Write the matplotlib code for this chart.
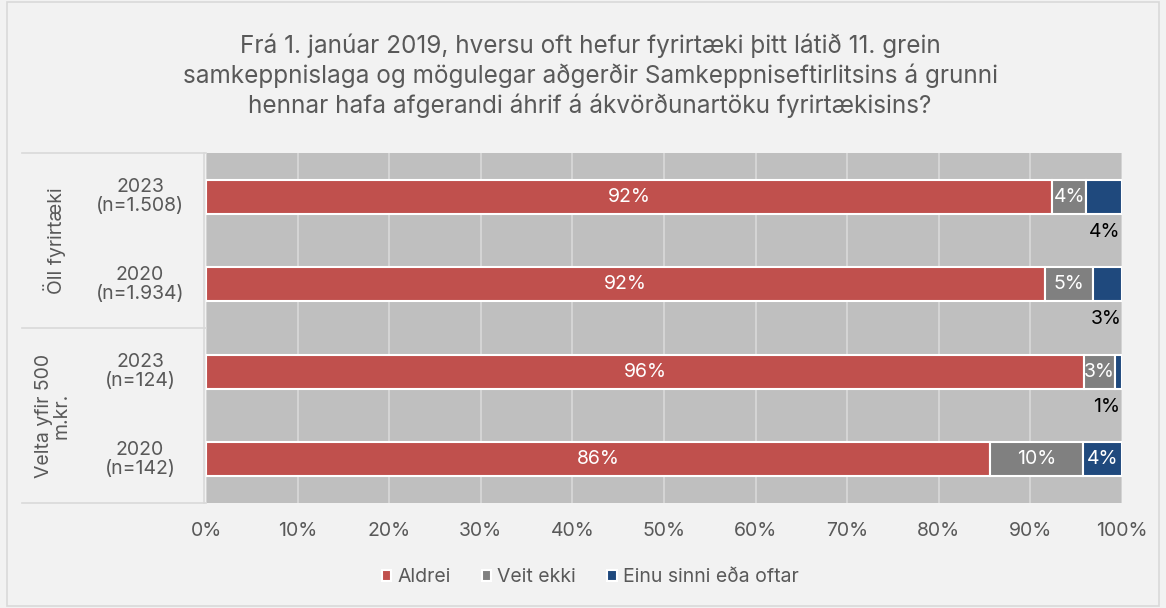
import matplotlib.pyplot as plt
import matplotlib.transforms as mtransforms
from matplotlib.lines import Line2D
from matplotlib.patches import Rectangle

plt.rcParams['font.family'] = ['Inter', 'DejaVu Sans']

# data
rows = ['2023\n(n=1.508)', '2020\n(n=1.934)', '2023\n(n=124)', '2020\n(n=142)']
groups = ['Öll fyrirtæki', 'Velta yfir 500\nm.kr.']
aldrei = [92.4, 91.6, 95.9, 85.6]
veit_ekki = [3.7, 5.2, 3.3, 10.1]
einu_sinni = [3.9, 3.2, 0.8, 4.3]
aldrei_lbl = ['92%', '92%', '96%', '86%']
veit_lbl = ['4%', '5%', '3%', '10%']
einu_lbl = ['4%', '3%', '1%', '4%']
series = ['Aldrei', 'Veit ekki', 'Einu sinni eða oftar']
colors = ['#C0504D', '#808080', '#1F497D']

title = ('Frá 1. janúar 2019, hversu oft hefur fyrirtæki þitt látið 11. grein\n'
         'samkeppnislaga og mögulegar aðgerðir Samkeppniseftirlitsins á grunni\n'
         'hennar hafa afgerandi áhrif á ákvörðunartöku fyrirtækisins?')

W, H = 1166, 608
txt = '#595959'
fs = 14
fig = plt.figure(figsize=(W / 100, H / 100), dpi=100, facecolor='#F2F2F2')
fig.add_artist(Rectangle((7 / W, 2 / H), 1 - 14 / W, 1 - 4 / H, transform=fig.transFigure,
                         fill=False, edgecolor='#D9D9D9', lw=1.2))

ax = fig.add_axes([206 / W, 1 - 503 / H, 916 / W, 350 / H])
ax.set_facecolor('#BFBFBF')
y = list(range(len(rows)))
h = 0.39
left = [0] * len(rows)
for vals, c, name in zip([aldrei, veit_ekki, einu_sinni], colors, series):
    ax.barh(y, vals, left=left, height=h, color=c, edgecolor='white', linewidth=1.5,
            label=name, zorder=3)
    left = [l + v for l, v in zip(left, vals)]

for i in y:
    ax.text(aldrei[i] / 2, i, aldrei_lbl[i], color='white', ha='center', va='center',
            fontsize=fs, zorder=4)
    xg = aldrei[i] + veit_ekki[i] / 2
    ax.text(xg, i, veit_lbl[i], color='white', ha='center', va='center', fontsize=fs, zorder=4)
    xb = aldrei[i] + veit_ekki[i] + einu_sinni[i] / 2
    if einu_sinni[i] >= 4.2:
        ax.text(xb, i, einu_lbl[i], color='white', ha='center', va='center',
                fontsize=fs, zorder=4)
    else:
        ax.text(min(xb, 98.3), i + 0.4, einu_lbl[i], color='black', ha='center',
                va='center', fontsize=fs, zorder=4)

ax.set_xlim(0, 100)
ax.set_ylim(3.5, -0.5)
ax.set_xticks(range(0, 101, 10))
ax.set_xticklabels([f'{t}%' for t in range(0, 101, 10)])
ax.tick_params(axis='x', length=0, labelsize=fs, labelcolor=txt, pad=14)
ax.set_yticks([])
ax.grid(axis='x', color='#D9D9D9', lw=1.2, zorder=1)
for s in ax.spines.values():
    s.set_visible(False)

# category labels on the left
tr = mtransforms.blended_transform_factory(ax.transAxes, ax.transData)
for i, r in enumerate(rows):
    ax.text(-66 / 916, i, r, transform=tr, ha='center', va='center', fontsize=fs,
            color=txt, linespacing=1.1)
ax.text(-151 / 916, 0.5, groups[0], transform=tr, ha='center', va='center', rotation=90,
        fontsize=fs, color=txt)
ax.text(-153 / 916, 2.5, groups[1], transform=tr, ha='center', va='center', rotation=90,
        fontsize=fs, color=txt, linespacing=1.0)
for yy in [-0.5, 1.5, 3.5]:
    ax.add_artist(Line2D([-184 / 916, 0], [yy, yy], transform=tr, color='#D9D9D9',
                         lw=1.2, clip_on=False))
ax.add_artist(Line2D([-2 / 916, -2 / 916], [-0.5, 3.5], transform=tr, color='#D9D9D9',
                     lw=1.2, clip_on=False))

fig.text(590 / W, 1 - 76 / H, title, ha='center', va='center', fontsize=17.5, color=txt,
         linespacing=1.28)

fig.legend(loc='center', bbox_to_anchor=(590 / W, 1 - 577 / H), ncol=3, frameon=False,
           fontsize=fs, labelcolor=txt, handlelength=0.5, handleheight=0.5,
           handletextpad=0.3, columnspacing=1.6)

fig.savefig('out.png', dpi=100, facecolor=fig.get_facecolor())
